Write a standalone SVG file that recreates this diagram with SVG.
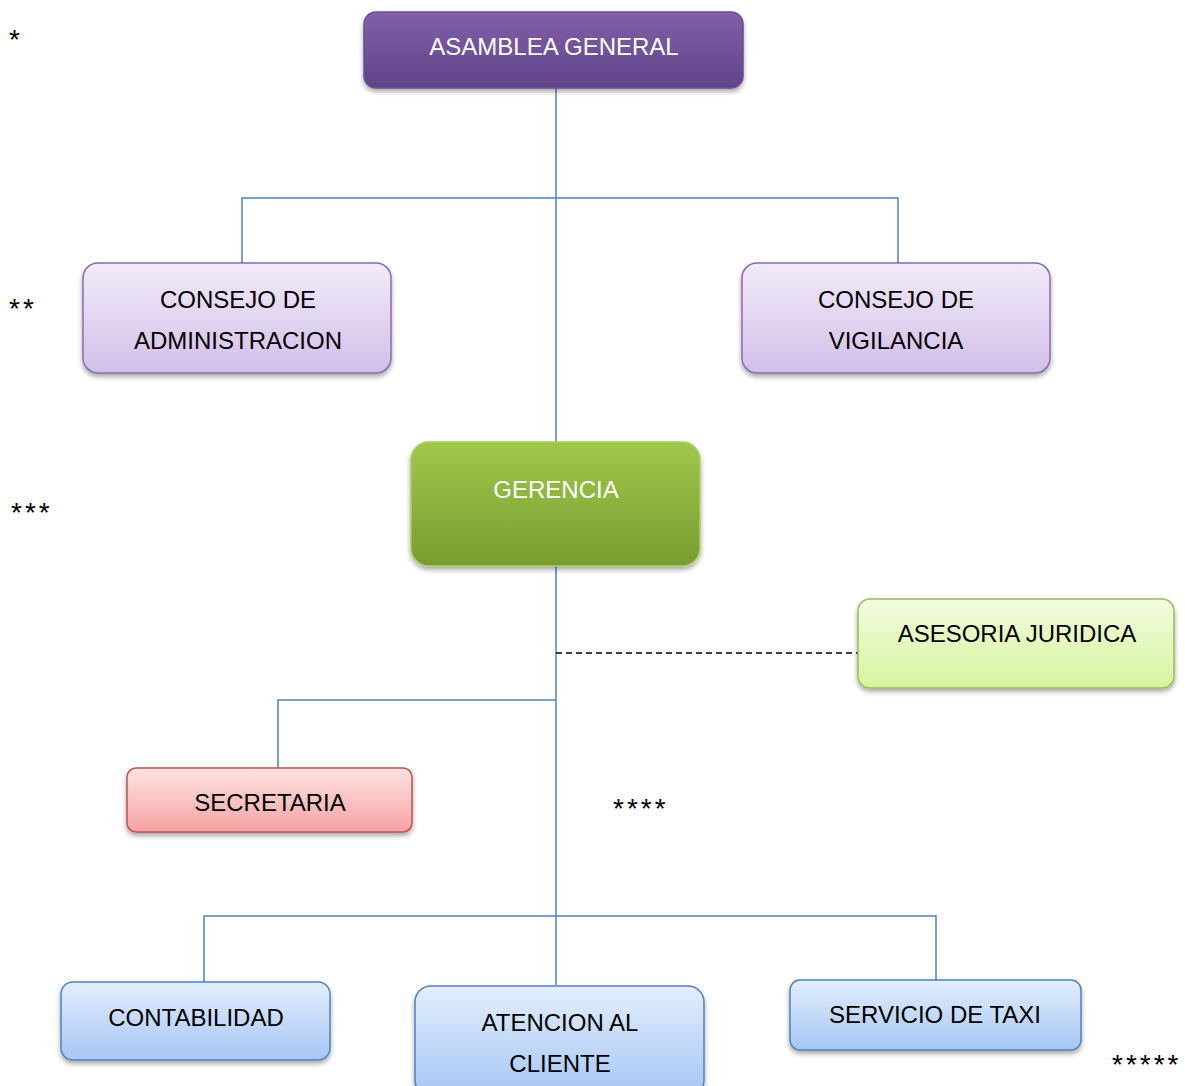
<svg xmlns="http://www.w3.org/2000/svg" width="1185" height="1086" viewBox="0 0 1185 1086">
<defs>
<linearGradient id="gPurple" x1="0" y1="0" x2="0" y2="1"><stop offset="0" stop-color="#8260aa"/><stop offset="1" stop-color="#5f4488"/></linearGradient>
<linearGradient id="gLav" x1="0" y1="0" x2="0" y2="1"><stop offset="0" stop-color="#f2ebf9"/><stop offset="1" stop-color="#d2bfe9"/></linearGradient>
<linearGradient id="gGreen" x1="0" y1="0" x2="0" y2="1"><stop offset="0" stop-color="#9fc84b"/><stop offset="1" stop-color="#779d31"/></linearGradient>
<linearGradient id="gLime" x1="0" y1="0" x2="0" y2="1"><stop offset="0" stop-color="#f2fbdf"/><stop offset="1" stop-color="#d6f59c"/></linearGradient>
<linearGradient id="gRed" x1="0" y1="0" x2="0" y2="1"><stop offset="0" stop-color="#ffe3e3"/><stop offset="1" stop-color="#f5a3a2"/></linearGradient>
<linearGradient id="gBlue" x1="0" y1="0" x2="0" y2="1"><stop offset="0" stop-color="#e3eefd"/><stop offset="1" stop-color="#a6c6f4"/></linearGradient>
<filter id="sh" x="-10%" y="-20%" width="120%" height="150%"><feDropShadow dx="0" dy="3" stdDeviation="2.5" flood-color="#000" flood-opacity="0.35"/></filter>
</defs>
<style>
.t{font-family:"Liberation Sans",Arial,sans-serif;font-size:24px;text-anchor:middle;fill:#000}
.w{fill:#fff}
.s{font-family:"Liberation Sans",Arial,sans-serif;font-size:28px;letter-spacing:3px;fill:#000}
.c{fill:none;stroke:#4f81bd;stroke-width:1.5}
.box{filter:url(#sh);stroke-width:1.5}
</style>
<rect width="1185" height="1086" fill="#fff"/>
<g id="connectors">
<path class="c" d="M556 88V442M242 263V198H898V263"/>
<path class="c" d="M556 566V985M278 768V700H556M204 982V916H936V980"/>
<path d="M556 653H858" fill="none" stroke="#000" stroke-width="1.5" stroke-dasharray="6 4"/>
</g>
<g id="asamblea"><rect class="box" x="364" y="12" width="379" height="76" rx="12" fill="url(#gPurple)" stroke="#6a4e94"/><text class="t w" x="554" y="55">ASAMBLEA GENERAL</text></g>
<g id="consejo-admin"><rect class="box" x="83" y="263" width="308" height="110" rx="15" fill="url(#gLav)" stroke="#8a6bb0"/><text class="t" x="238" y="308">CONSEJO DE</text><text class="t" x="238" y="349">ADMINISTRACION</text></g>
<g id="consejo-vig"><rect class="box" x="742" y="263" width="308" height="110" rx="15" fill="url(#gLav)" stroke="#8a6bb0"/><text class="t" x="896" y="308">CONSEJO DE</text><text class="t" x="896" y="349">VIGILANCIA</text></g>
<g id="gerencia"><rect class="box" x="411" y="442" width="289" height="124" rx="18" fill="url(#gGreen)" stroke="#a9cf62"/><text class="t w" x="556" y="498">GERENCIA</text></g>
<g id="asesoria"><rect class="box" x="858" y="599" width="316" height="89" rx="12" fill="url(#gLime)" stroke="#9bbb59"/><text class="t" x="1017" y="642">ASESORIA JURIDICA</text></g>
<g id="secretaria"><rect class="box" x="127" y="768" width="285" height="64" rx="9" fill="url(#gRed)" stroke="#c0504d"/><text class="t" x="270" y="811">SECRETARIA</text></g>
<g id="contabilidad"><rect class="box" x="61" y="982" width="269" height="78" rx="12" fill="url(#gBlue)" stroke="#4f81bd"/><text class="t" x="196" y="1026">CONTABILIDAD</text></g>
<g id="atencion"><rect class="box" x="415" y="986" width="289" height="110" rx="16" fill="url(#gBlue)" stroke="#4f81bd"/><text class="t" x="560" y="1031">ATENCION AL</text><text class="t" x="560" y="1072">CLIENTE</text></g>
<g id="servicio"><rect class="box" x="790" y="980" width="291" height="70" rx="10" fill="url(#gBlue)" stroke="#4f81bd"/><text class="t" x="935" y="1023">SERVICIO DE TAXI</text></g>
<g id="marks">
<text class="s" x="9" y="49">*</text>
<text class="s" x="9" y="318">**</text>
<text class="s" x="11" y="522">***</text>
<text class="s" x="613" y="818">****</text>
<text class="s" x="1112" y="1074">*****</text>
</g>
</svg>
